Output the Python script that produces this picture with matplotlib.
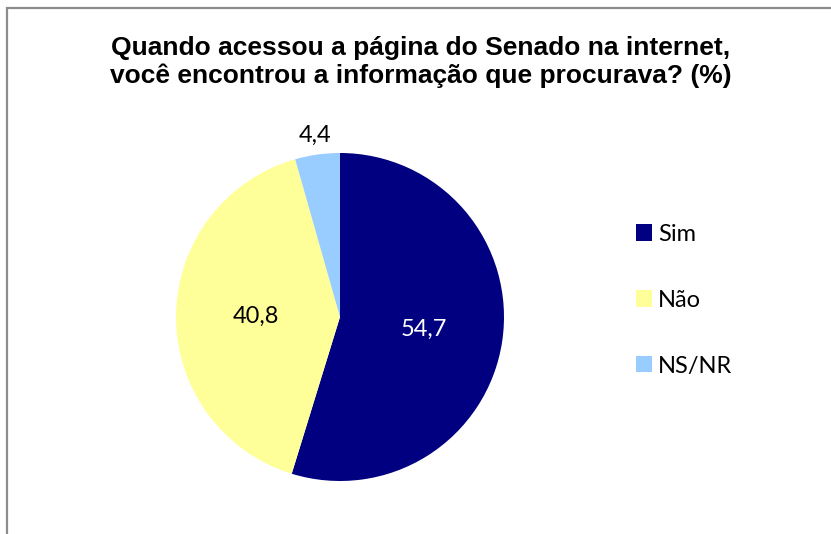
"""Pie chart: encontrou a informação na página do Senado."""
import matplotlib
matplotlib.use('Agg')
import matplotlib.pyplot as plt
from matplotlib.patches import Rectangle
import numpy as np

W, H, DPI = 831, 534, 100

labels = ['Sim', 'Não', 'NS/NR']
values = [54.7, 40.8, 4.4]
colors = ['#000080', '#FFFF99', '#99CCFF']
value_text = ['54,7', '40,8', '4,4']
text_colors = ['white', 'black', 'black']
label_r = [0.52, 0.515, 1.12]

TITLE = 'Quando acessou a página do Senado na internet,\nvocê encontrou a informação que procurava? (%)'

fig = plt.figure(figsize=(W / DPI, H / DPI), dpi=DPI)

# chart frame (cut off at right/bottom like the original screenshot)
fig.patches.append(Rectangle((7 / W, -0.1), 1.2, 1 - 8 / H + 0.1, transform=fig.transFigure,
                             fill=False, edgecolor='#8c8c8c', linewidth=1.6))

# ─── Pie ───
cx, cy, r = 340, 317, 164
ax = fig.add_axes([(cx - r) / W, (H - cy - r) / H, 2 * r / W, 2 * r / H])
wedges, _ = ax.pie(values, colors=colors, startangle=90, counterclock=False,
                   radius=1, wedgeprops=dict(linewidth=0))
ax.set_xlim(-1, 1); ax.set_ylim(-1, 1)
ax.set_aspect('equal')
ax.axis('off')

for w, txt, c, rr in zip(wedges, value_text, text_colors, label_r):
    ang = np.deg2rad((w.theta1 + w.theta2) / 2)
    ax.text(rr * np.cos(ang), rr * np.sin(ang), txt, ha='center', va='center',
            color=c, fontsize=17, family='Lato', clip_on=False)

# ─── Title ───
fig.text(421 / W, 1 - 62 / H, TITLE, ha='center', va='center', fontsize=19,
         fontweight='bold', family='Liberation Sans', linespacing=1.22)

# ─── Legend ───
fig.legend(wedges, labels, loc='upper left', bbox_to_anchor=(624 / W, 1 - 212 / H),
           frameon=False, prop=dict(family='Lato', size=17),
           handlelength=0.68, handleheight=0.68, handletextpad=0.25,
           labelspacing=1.9, borderpad=0)

fig.savefig('out.png', dpi=DPI)
